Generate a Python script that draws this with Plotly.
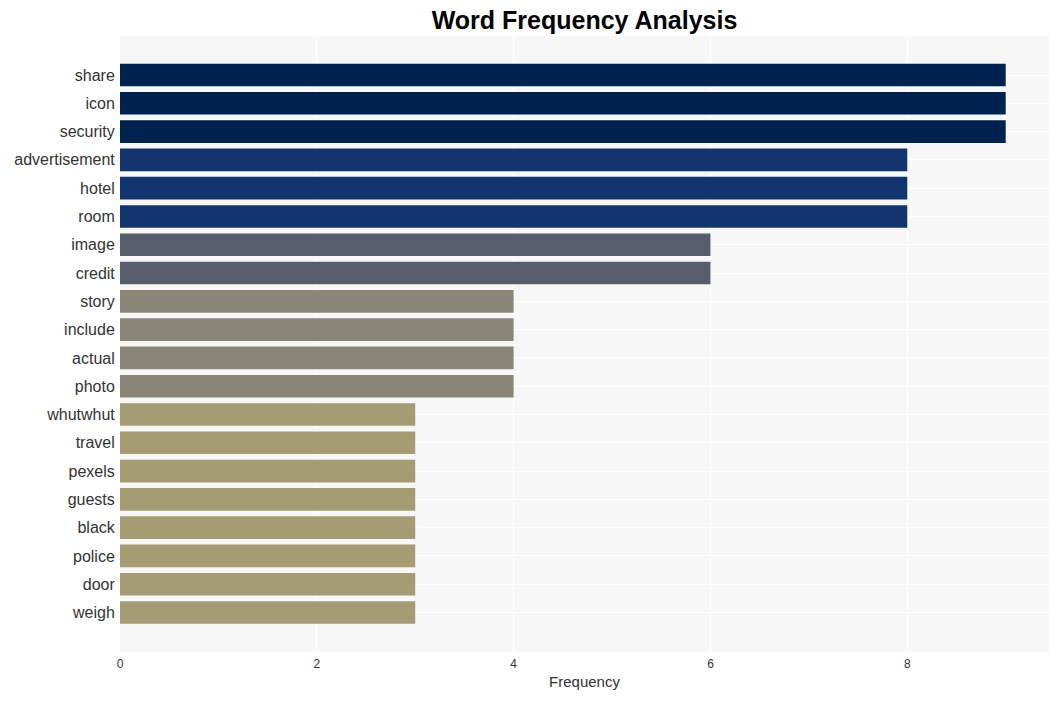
import plotly.graph_objects as go

words = ["share", "icon", "security", "advertisement", "hotel", "room", "image", "credit",
         "story", "include", "actual", "photo", "whutwhut", "travel", "pexels", "guests",
         "black", "police", "door", "weigh"]
freqs = [9, 9, 9, 8, 8, 8, 6, 6, 4, 4, 4, 4, 3, 3, 3, 3, 3, 3, 3, 3]

color_by_value = {9: "#00224e", 8: "#123570", 6: "#575d6d", 4: "#8a8678", 3: "#a59c74"}
colors = [color_by_value[v] for v in freqs]

fig = go.Figure(go.Bar(
    x=freqs, y=words, orientation="h",
    marker=dict(color=colors, line=dict(width=0)),
))

fig.update_layout(
    width=1059, height=701,
    margin=dict(l=120, r=10, t=36, b=49),
    title=dict(text="<b>Word Frequency Analysis</b>", x=0.5, xref="paper", xanchor="center",
               y=0.971, yanchor="middle",
               font=dict(family="Liberation Sans, Arial", size=25, color="black")),
    paper_bgcolor="white",
    plot_bgcolor="#f7f7f7",
    font=dict(family="Liberation Sans, Arial", color="#333"),
    bargap=0.2,
    showlegend=False,
)
fig.update_xaxes(title=dict(text="Frequency", font=dict(size=15), standoff=6), tickfont=dict(size=12),
                 range=[0, 9.44], gridcolor="white", gridwidth=1, zeroline=False, dtick=2,
                 ticks="outside", ticklen=1, tickcolor="rgba(0,0,0,0)", automargin=False)
fig.update_yaxes(tickfont=dict(size=16), categoryorder="array", categoryarray=words,
                 range=[len(words) - 1 + 1.396, -1.379], gridcolor="white",
                 ticks="outside", ticklen=1, tickcolor="rgba(0,0,0,0)", automargin=False)

fig.write_html("out.html")
